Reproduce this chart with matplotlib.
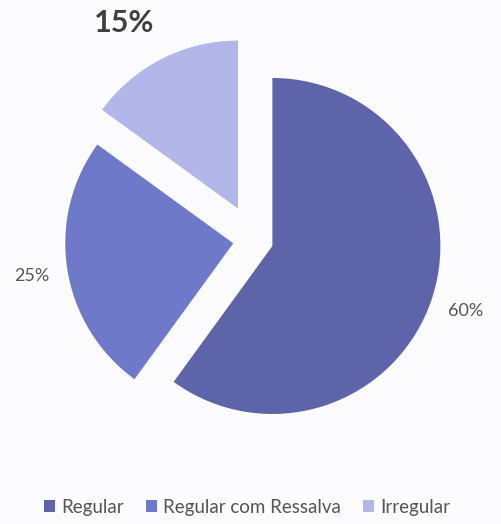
import matplotlib
matplotlib.use("Agg")
import matplotlib.pyplot as plt

categories = ["Regular", "Regular com Ressalva", "Irregular"]
values = [60, 25, 15]
colors = ["#5d64aa", "#6f79c9", "#b2b6e8"]
explode = [0.115, 0.125, 0.21]

W, H = 502, 524
R = 168.0           # pie radius in pixels
CX, CY = 254, 240   # pie centre in pixels (from top-left)

fig = plt.figure(figsize=(W / 100, H / 100), dpi=100)
fig.patch.set_facecolor("#fcfcfe")
ax = fig.add_axes([0, 0, 1, 1])

wedges, _ = ax.pie(values, colors=colors, explode=explode, startangle=90,
                   counterclock=False, radius=1,
                   wedgeprops=dict(linewidth=0))
ax.set_xlim(-CX / R, (W - CX) / R)
ax.set_ylim(-(H - CY) / R, CY / R)
ax.set_aspect("equal")
ax.axis("off")

font = ["Lato", "DejaVu Sans"]
label_pos = [(466, 311), (32, 276), (124, 23)]
for v, (x, y), big in zip(values, label_pos, [False, False, True]):
    fig.text(x / W, 1 - y / H, f"{v}%", ha="center", va="center",
             fontsize=22 if big else 13, fontweight="bold" if big else "normal",
             color="#404040" if big else "#555555", family=font)

leg = fig.legend(wedges, categories, loc="center", bbox_to_anchor=(247 / W, 1 - 507 / H),
                 ncol=3, frameon=False, handlelength=0.6, handleheight=0.6,
                 handletextpad=0.3, columnspacing=1.2,
                 prop={"family": font, "size": 13.5})
for t in leg.get_texts():
    t.set_color("#555555")

fig.savefig("out.png", dpi=100, facecolor=fig.get_facecolor())
